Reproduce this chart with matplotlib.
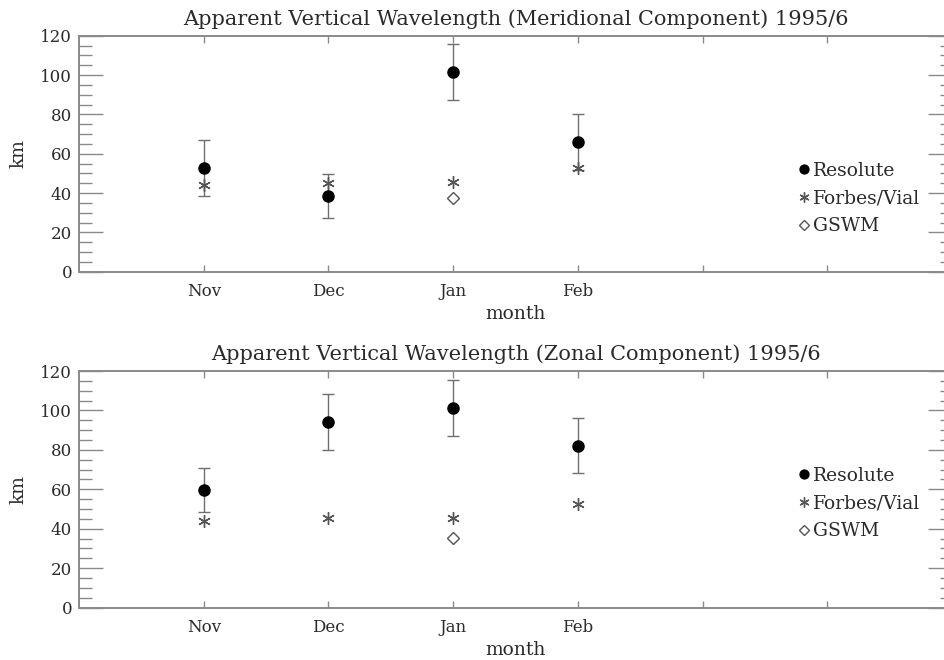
import numpy as np
import matplotlib
matplotlib.use("Agg")
import matplotlib.pyplot as plt
import matplotlib.transforms as mtransforms
from matplotlib.ticker import MultipleLocator, FixedLocator

months = ["Nov", "Dec", "Jan", "Feb"]
month_pos = [1, 2, 3, 4]

# meridional component
mer_resolute = [52.9, 38.6, 101.5, 65.9]
mer_resolute_err = [14.2, 11.2, 14.3, 14.1]
mer_forbes = [44.1, 45.3, 45.4, 52.6]
mer_gswm = [37.6]          # January only

# zonal component
zon_resolute = [59.8, 94.0, 101.1, 82.2]
zon_resolute_err = [11.1, 14.1, 14.1, 14.1]
zon_forbes = [43.7, 45.2, 45.2, 52.5]
zon_gswm = [35.5]

titles = ["Apparent Vertical Wavelength (Meridional Component) 1995/6",
          "Apparent Vertical Wavelength (Zonal Component) 1995/6"]

plt.rcParams["font.family"] = ["DejaVu Serif"]
axcol = "#8a8a8a"
txtcol = "#2a2a2a"

fig = plt.figure(figsize=(9.45, 6.6), dpi=100)
W, H = 945.0, 660.0
ax1 = fig.add_axes([79 / W, 1 - 271.7 / H, 873 / W, 236 / H])
ax2 = fig.add_axes([79 / W, 1 - 607.6 / H, 873 / W, 236.6 / H])

panels = [(ax1, mer_resolute, mer_resolute_err, mer_forbes, mer_gswm, 0.497),
          (ax2, zon_resolute, zon_resolute_err, zon_forbes, zon_gswm, 0.627)]

asterisk = (6, 2, 0)

for (ax, res, err, fv, gs, leg_y), title in zip(panels, titles):
    ax.errorbar(month_pos, res, yerr=err, fmt="none", ecolor="#6f6f6f",
                elinewidth=1.0, capsize=4, capthick=1.0, zorder=2)
    ax.plot(month_pos, res, "o", color="black", markersize=8, zorder=3,
            label="Resolute", linestyle="none")
    ax.plot(month_pos, fv, marker=asterisk, color="#555555", markersize=9,
            markeredgewidth=1.0, linestyle="none", zorder=4, label="Forbes/Vial")
    ax.plot(month_pos[2:3], gs, marker="D", markerfacecolor="white",
            markeredgecolor="#555555", markersize=6, markeredgewidth=1.0,
            linestyle="none", zorder=4, label="GSWM")

    ax.set_xlim(0, 7)
    ax.set_ylim(0, 120)
    ax.xaxis.set_major_locator(FixedLocator([1, 2, 3, 4, 5, 6]))
    ax.set_xticklabels(months + ["", ""])
    ax.yaxis.set_major_locator(MultipleLocator(20))
    ax.yaxis.set_minor_locator(MultipleLocator(5))
    ax.tick_params(axis="x", which="major", direction="in", length=5,
                   width=1.0, color=axcol, top=True, pad=8,
                   labelsize=12, labelcolor=txtcol)
    ax.tick_params(axis="y", which="major", direction="in", length=17,
                   width=1.0, color=axcol, right=True, pad=5,
                   labelsize=12, labelcolor=txtcol)
    ax.tick_params(axis="y", which="minor", direction="in", length=9,
                   width=1.0, color=axcol, right=True)
    for sp in ax.spines.values():
        sp.set_color(axcol)
        sp.set_linewidth(1.4)

    # nudge end labels inside the frame
    ylabels = ax.get_yticklabels()
    ylabels[0].set_transform(ylabels[0].get_transform() +
                             mtransforms.ScaledTranslation(0, 4 / 72, fig.dpi_scale_trans))
    ylabels[-1].set_transform(ylabels[-1].get_transform() +
                              mtransforms.ScaledTranslation(0, -4 / 72, fig.dpi_scale_trans))

    ax.set_title(title, fontsize=15, color=txtcol, pad=8)
    ax.set_xlabel("month", fontsize=13.5, color=txtcol, labelpad=4)
    ax.set_ylabel("km", fontsize=13.5, color=txtcol, labelpad=9)

    leg = ax.legend(loc="upper left", bbox_to_anchor=(0.816, leg_y),
                    frameon=False, handlelength=0.6, handletextpad=0.15,
                    labelspacing=0.52, borderaxespad=0, fontsize=13.5,
                    markerscale=0.8)
    for t in leg.get_texts():
        t.set_color(txtcol)

fig.savefig("out.png", dpi=100)
